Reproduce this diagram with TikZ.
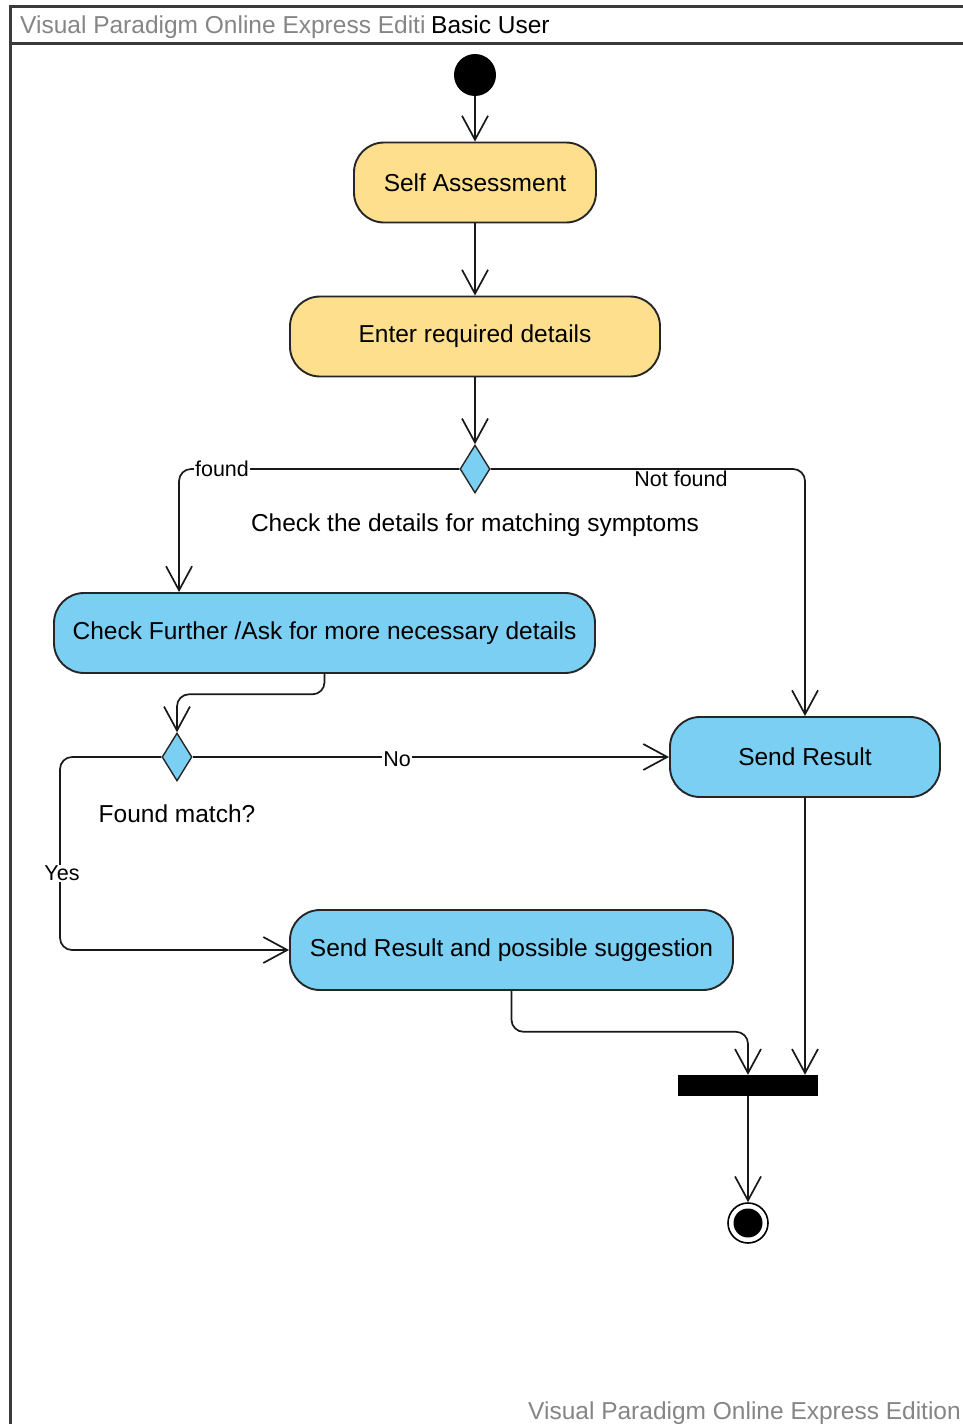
\documentclass[tikz,border=0pt]{standalone}
\usepackage{fontspec}
\setmainfont{Liberation Sans}
\usetikzlibrary{arrows.meta,shapes.geometric,calc}

\definecolor{actyellow}{HTML}{FEDF8D}
\definecolor{actblue}{HTML}{7ACFF3}
\definecolor{wmgrey}{HTML}{858585}
\definecolor{framegrey}{HTML}{3A3A3A}

\tikzset{
  every node/.style={font=\fontsize{24.5}{28}\selectfont},
  action/.style={draw=black!85, line width=1.9pt, rounded corners=30pt,
    minimum height=80pt, inner sep=0pt},
  yact/.style={action, fill=actyellow},
  bact/.style={action, fill=actblue},
  decision/.style={diamond, draw=black!85, line width=1.4pt, fill=actblue,
    minimum width=30pt, minimum height=48pt, inner sep=0pt},
  flow/.style={draw=black!90, line width=1.7pt, rounded corners=12pt,
    -{Straight Barb[length=24pt,width=26pt]}},
  guard/.style={fill=white, inner sep=1pt, font=\fontsize{21.5}{24}\selectfont},
  caption/.style={inner sep=0pt},
  watermark/.style={text=wmgrey, inner sep=0pt, anchor=west},
}

\begin{document}
\begin{tikzpicture}[x=1pt,y=-1pt]
\useasboundingbox (0,0) rectangle (963,1424);

% swimlane frame and header
\draw[framegrey, line width=3pt] (10,1424) -- (10,6) -- (963,6);
\draw[framegrey, line width=3pt] (10,43) -- (963,43);
\node[watermark] (wmtop) at (20,27) {Visual Paradigm Online Express Editi};
\node[inner sep=0pt, anchor=west] (lane) at (431,25) {Basic User};
\node[watermark] (wmbot) at (528,1413) {Visual Paradigm Online Express Edition};

% nodes
\node[circle, fill=black, minimum size=42pt, inner sep=0pt] (init) at (475,75) {};
\node[yact, minimum width=242pt] (sa) at (475,182.5) {Self Assessment};
\node[yact, minimum width=370pt] (erd) at (475,336.5) {Enter required details};
\node[decision] (d1) at (475,469) {};
\node[caption] (d1txt) at (475,525) {Check the details for matching symptoms};
\node[bact, minimum width=541pt] (cf) at (324.5,633) {Check Further /Ask for more necessary details};
\node[decision] (d2) at (177,757) {};
\node[caption] (d2txt) at (177,814) {Found match?};
\node[bact, minimum width=270pt] (sr) at (805,757) {Send Result};
\node[bact, minimum width=443pt] (srps) at (511.5,950) {Send Result and possible suggestion};
\node[fill=black, minimum width=140pt, minimum height=21pt, inner sep=0pt] (bar) at (748,1085.5) {};
\node[circle, draw=black, line width=1.6pt, fill=white, minimum size=40pt, inner sep=0pt] (fin) at (748,1223) {};
\node[circle, fill=black, minimum size=29pt, inner sep=0pt] (findot) at (fin.center) {};

% control flows
\draw[flow] (init) -- (sa.north);
\draw[flow] (sa.south) -- (erd.north);
\draw[flow] (erd.south) -- (d1.north);
\draw[flow] (d1.west) -| ($(cf.north west)+(126,0)$);
\draw[flow] (d1.east) -| (sr.north);
\draw[flow] (cf.south) |- ($(d2.north)+(0,-38)$) -- (d2.north);
\draw[flow] (d2.east) -- (sr.west);
\draw[flow] (d2.west) -| ($(srps.west)+(-229,0)$) -- (srps.west);
\draw[flow] (srps.south) |- ($(bar.north)+(0,-43)$) -- (bar.north);
\draw[flow] (sr.south) -- (sr.south |- bar.north);
\draw[flow] (bar.south) -- (fin.north);

% guards
\node[guard] (gfound) at (222,469) {found};
\node[guard] (gnotfound) at (681,479) {Not found};
\node[guard] (gno) at (397,759) {No};
\node[guard] (gyes) at (62,873) {Yes};
\end{tikzpicture}
\end{document}
